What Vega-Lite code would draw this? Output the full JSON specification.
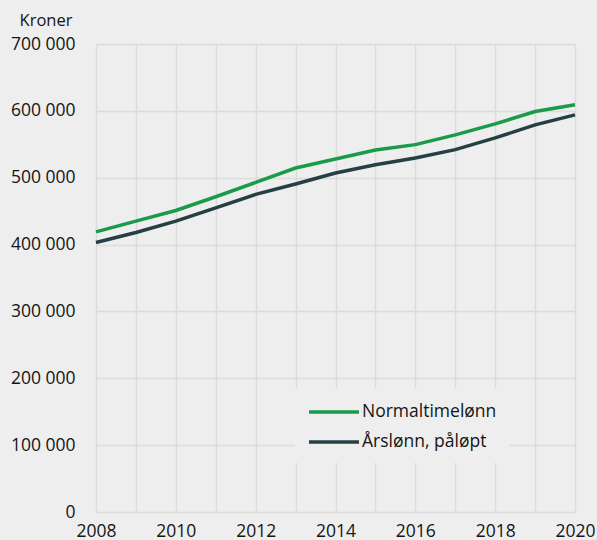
{
  "$schema": "https://vega.github.io/schema/vega-lite/v6.json",
  "width": 479,
  "height": 468,
  "autosize": {"type": "none"},
  "padding": {"left": 96, "top": 44, "right": 22, "bottom": 28},
  "background": "#eeeeee",
  "config": {
    "locale": {"number": {"decimal": ",", "thousands": " ", "grouping": [3], "currency": ["", " kr"]}},
    "font": "Open Sans",
    "view": {"stroke": null, "fill": "#eeeeee"},
    "axis": {"labelFont": "Open Sans", "labelFontSize": 17.5, "labelColor": "#151515", "gridColor": "#dcdcdc", "gridWidth": 1.5, "domain": false, "ticks": false}
  },
  "data": {
    "values": [
      {"year": 2008, "serie": "Normaltimelønn", "value": 419000},
      {"year": 2009, "serie": "Normaltimelønn", "value": 435000},
      {"year": 2010, "serie": "Normaltimelønn", "value": 451000},
      {"year": 2011, "serie": "Normaltimelønn", "value": 471500},
      {"year": 2012, "serie": "Normaltimelønn", "value": 493000},
      {"year": 2013, "serie": "Normaltimelønn", "value": 514500},
      {"year": 2014, "serie": "Normaltimelønn", "value": 528000},
      {"year": 2015, "serie": "Normaltimelønn", "value": 541500},
      {"year": 2016, "serie": "Normaltimelønn", "value": 549500},
      {"year": 2017, "serie": "Normaltimelønn", "value": 564000},
      {"year": 2018, "serie": "Normaltimelønn", "value": 580500},
      {"year": 2019, "serie": "Normaltimelønn", "value": 599000},
      {"year": 2020, "serie": "Normaltimelønn", "value": 609000},
      {"year": 2008, "serie": "Årslønn, påløpt", "value": 403000},
      {"year": 2009, "serie": "Årslønn, påløpt", "value": 418000},
      {"year": 2010, "serie": "Årslønn, påløpt", "value": 435000},
      {"year": 2011, "serie": "Årslønn, påløpt", "value": 455000},
      {"year": 2012, "serie": "Årslønn, påløpt", "value": 475000},
      {"year": 2013, "serie": "Årslønn, påløpt", "value": 490500},
      {"year": 2014, "serie": "Årslønn, påløpt", "value": 507000},
      {"year": 2015, "serie": "Årslønn, påløpt", "value": 519500},
      {"year": 2016, "serie": "Årslønn, påløpt", "value": 529500},
      {"year": 2017, "serie": "Årslønn, påløpt", "value": 542000},
      {"year": 2018, "serie": "Årslønn, påløpt", "value": 559500},
      {"year": 2019, "serie": "Årslønn, påløpt", "value": 579000},
      {"year": 2020, "serie": "Årslønn, påløpt", "value": 594000}
    ]
  },
  "mark": {"type": "line", "strokeWidth": 3.5},
  "encoding": {
    "x": {
      "field": "year", "type": "quantitative",
      "scale": {"domain": [2008, 2020], "nice": false, "zero": false},
      "axis": {
        "title": null,
        "values": [2008, 2009, 2010, 2011, 2012, 2013, 2014, 2015, 2016, 2017, 2018, 2019, 2020],
        "format": "d",
        "labelExpr": "datum.value % 2 == 0 ? datum.label : ''",
        "labelFlush": false,
        "labelPadding": 10,
        "labelOverlap": false
      }
    },
    "y": {
      "field": "value", "type": "quantitative",
      "scale": {"domain": [0, 700000], "nice": false},
      "axis": {
        "title": "Kroner",
        "titleAngle": 0,
        "titleAlign": "right",
        "titleBaseline": "alphabetic",
        "titleX": -24,
        "titleY": -19,
        "titleFont": "Open Sans",
        "titleFontSize": 16.5,
        "titleFontWeight": "normal",
        "titleColor": "#151515",
        "values": [0, 100000, 200000, 300000, 400000, 500000, 600000, 700000],
        "format": ",d",
        "labelPadding": 21
      }
    },
    "color": {
      "field": "serie", "type": "nominal",
      "scale": {"domain": ["Normaltimelønn", "Årslønn, påløpt"], "range": ["#1a9b4a", "#263f45"]},
      "legend": {
        "title": null,
        "orient": "none",
        "legendX": 199,
        "legendY": 344,
        "fillColor": "#eeeeee",
        "padding": 12,
        "symbolType": "M-1,0H4",
        "symbolSize": 400,
        "symbolStrokeWidth": 3.5,
        "labelFont": "Open Sans",
        "labelFontSize": 17.5,
        "labelColor": "#151515",
        "labelOffset": 31,
        "rowPadding": 9
      }
    }
  }
}
